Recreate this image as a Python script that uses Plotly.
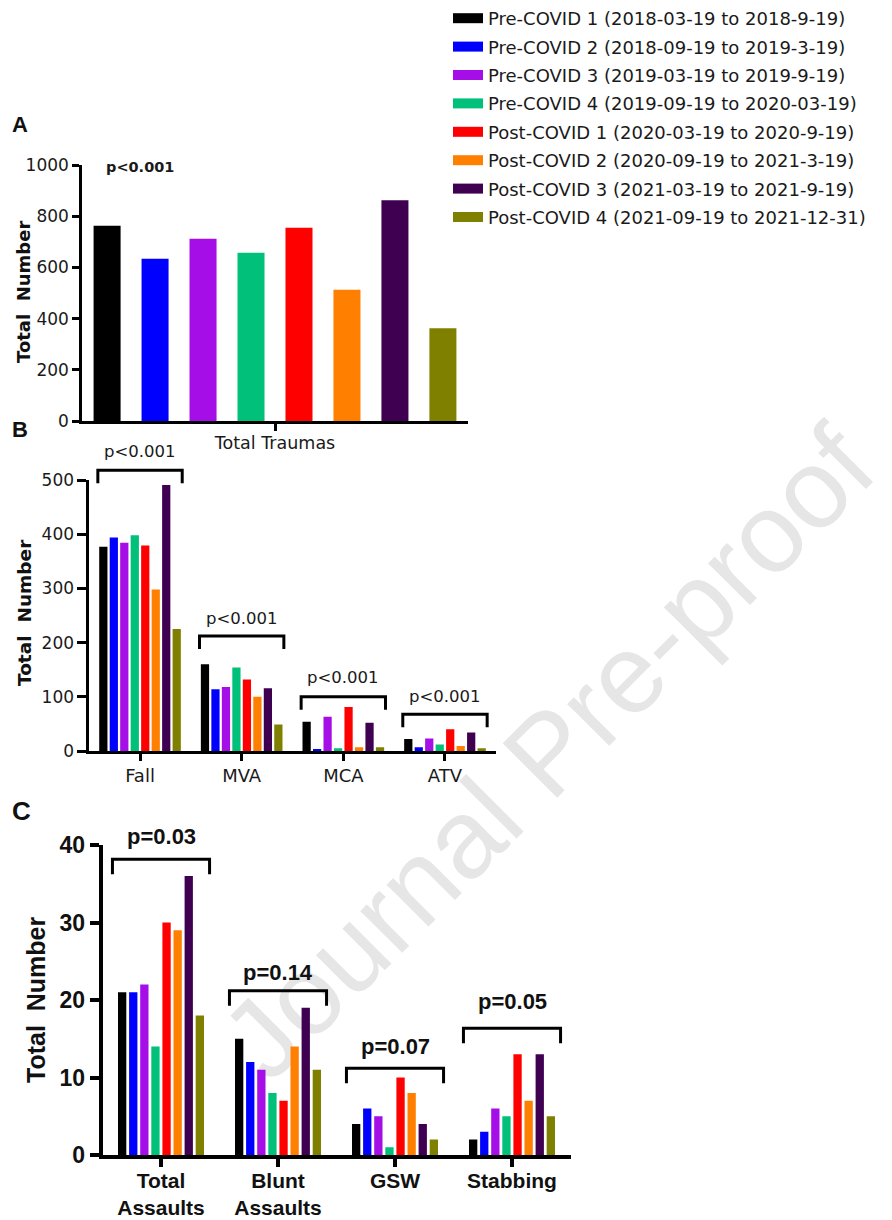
import plotly.graph_objects as go

# ---------------- data ----------------
series_names = [
    "Pre-COVID 1 (2018-03-19 to 2018-9-19)",
    "Pre-COVID 2 (2018-09-19 to 2019-3-19)",
    "Pre-COVID 3 (2019-03-19 to 2019-9-19)",
    "Pre-COVID 4 (2019-09-19 to 2020-03-19)",
    "Post-COVID 1 (2020-03-19 to 2020-9-19)",
    "Post-COVID 2 (2020-09-19 to 2021-3-19)",
    "Post-COVID 3 (2021-03-19 to 2021-9-19)",
    "Post-COVID 4 (2021-09-19 to 2021-12-31)",
]
colors = ["#000000", "#0000ff", "#a50ee6", "#00c07a",
          "#ff0000", "#ff8000", "#3f0052", "#808000"]

cats_a = ["Total Traumas"]
vals_a = [[763], [634], [712], [657], [755], [513], [862], [362]]

cats_b = ["Fall", "MVA", "MCA", "ATV"]
vals_b = [
    [377, 160, 54, 22],
    [394, 114, 3, 7],
    [384, 118, 63, 23],
    [398, 154, 5, 12],
    [379, 132, 81, 40],
    [298, 100, 7, 9],
    [491, 116, 52, 34],
    [225, 49, 7, 5],
]
p_b = ["p<0.001", "p<0.001", "p<0.001", "p<0.001"]
bracket_top_b = [518, 212, 100, 68]
ptext_y_b = [553, 245, 135, 100]

cats_c = ["Total<br>Assaults", "Blunt<br>Assaults", "GSW", "Stabbing"]
vals_c = [
    [21, 15, 4, 2],
    [21, 12, 6, 3],
    [22, 11, 5, 6],
    [14, 8, 1, 5],
    [30, 7, 10, 13],
    [29, 14, 8, 7],
    [36, 19, 4, 13],
    [18, 11, 2, 5],
]
p_c = ["p=0.03", "p=0.14", "p=0.07", "p=0.05"]
bracket_top_c = [38.15, 21.2, 11.2, 16.35]
ptext_y_c = [41.1, 23.6, 14.0, 19.8]

p_a = "p<0.001"
p_a_pos = (-0.35, 992)

# ---------------- layout geometry (page pixels) ----------------
OFF = 8                      # default body margin of the html page
W, H = 892 - OFF, 1220 - OFF
FONT = "DejaVu Sans"
FONT_C = "Liberation Sans"

panels = {
    "A": dict(xd=(82, 468), yd=(165, 421), yr=1000, dtick=200,
              bw=0.070, span=0.940, xa="x", ya="y"),
    "B": dict(xd=(89.2, 495.8), yd=(480, 751), yr=500, dtick=100,
              bw=0.081, span=0.803, xa="x2", ya="y2"),
    "C": dict(xd=(102.5, 570.5), yd=(845, 1155), yr=40, dtick=10,
              bw=0.071, span=0.735, xa="x3", ya="y3"),
}


def pxx(px):
    return (px - OFF) / W


def pxy(py):
    return 1 - (py - OFF) / H


def data_to_paper(panel, v):
    p = panels[panel]
    y0 = pxy(p["yd"][1])
    y1 = pxy(p["yd"][0])
    return y0 + v / p["yr"] * (y1 - y0)


fig = go.Figure()

for key, cats, vals in (("A", cats_a, vals_a), ("B", cats_b, vals_b), ("C", cats_c, vals_c)):
    p = panels[key]
    n = len(vals)
    pitch = (p["span"] - p["bw"]) / (n - 1)
    left = -p["span"] / 2
    for i in range(n):
        fig.add_trace(go.Bar(
            x=list(range(len(cats))), y=vals[i],
            width=p["bw"], offset=left + i * pitch,
            marker=dict(color=colors[i], line=dict(width=0)),
            name=series_names[i], showlegend=False, legendgroup=f"s{i}",
            xaxis=p["xa"], yaxis=p["ya"], hoverinfo="skip",
        ))

# legend entries drawn as wide colour swatches
for i in range(len(series_names)):
    fig.add_trace(go.Scatter(
        x=[None], y=[None], mode="lines", name=series_names[i],
        line=dict(color=colors[i], width=13), legendgroup=f"s{i}",
        showlegend=True, xaxis="x", yaxis="y", hoverinfo="skip",
    ))

axis_common = dict(showgrid=False, zeroline=False, showline=True,
                   linecolor="black", ticks="outside", tickcolor="black")

layout = dict(
    width=W, height=H, margin=dict(l=0, r=0, t=0, b=0, autoexpand=False),
    paper_bgcolor="white", plot_bgcolor="rgba(0,0,0,0)",
    barmode="overlay", font=dict(family=FONT, color="#1a1a1a"),
    legend=dict(x=pxx(448), y=pxy(0), xanchor="left", yanchor="top",
                font=dict(family=FONT, size=18, color="#1a1a1a"),
                bgcolor="rgba(0,0,0,0)", tracegroupgap=2),
)

spec = {
    "A": dict(cats=cats_a, lw=2.5, tl=7, ytl=7, so=-3, tf=dict(family=FONT, size=17, color="#1a1a1a"),
              xtf=dict(family=FONT, size=17.5, color="#1a1a1a")),
    "B": dict(cats=cats_b, lw=2.5, tl=7, ytl=9, so=0, tf=dict(family=FONT, size=17, color="#1a1a1a"),
              xtf=dict(family=FONT, size=18, color="#1a1a1a")),
    "C": dict(cats=cats_c, lw=3.5, tl=8, ytl=9, so=-4, tf=dict(family=FONT_C, size=23, color="#111111"),
              xtf=dict(family=FONT_C, size=21, color="#111111")),
}

for key, p in panels.items():
    s = spec[key]
    xname = "xaxis" if p["xa"] == "x" else "xaxis" + p["xa"][1:]
    yname = "yaxis" if p["ya"] == "y" else "yaxis" + p["ya"][1:]
    ncat = len(s["cats"])
    xtf = dict(s["xtf"])
    ytf = dict(s["tf"])
    if key == "C":
        xtf["weight"] = "bold"
        ytf["weight"] = "bold"
    layout[xname] = dict(axis_common, domain=[pxx(p["xd"][0]), pxx(p["xd"][1])],
                         range=[-0.5, ncat - 0.5], anchor=p["ya"],
                         tickvals=list(range(ncat)), ticktext=s["cats"],
                         linewidth=s["lw"], tickwidth=s["lw"], ticklen=s["tl"],
                         ticklabelstandoff=s["so"],
                         tickfont=xtf, fixedrange=True)
    layout[yname] = dict(axis_common, domain=[pxy(p["yd"][1]), pxy(p["yd"][0])],
                         range=[0, p["yr"]], anchor=p["xa"], dtick=p["dtick"],
                         tick0=0, linewidth=s["lw"], tickwidth=s["lw"],
                         ticklen=s["ytl"], tickfont=ytf, fixedrange=True)

fig.update_layout(**layout)

shapes = []
annotations = []

# brackets + p-values
for key, tops, texts, labels, legpx, font in (
    ("B", bracket_top_b, ptext_y_b, p_b, 13, dict(family=FONT, size=16.5, color="#1a1a1a")),
    ("C", bracket_top_c, ptext_y_c, p_c, 15, dict(family=FONT_C, size=22, color="#111111", weight="bold")),
):
    p = panels[key]
    half = 0.415
    for i, (t, ty, lab) in enumerate(zip(tops, texts, labels)):
        yt = data_to_paper(key, t)
        yb = yt - legpx / H
        path = f"M {i - half},{yb} L {i - half},{yt} L {i + half},{yt} L {i + half},{yb}"
        shapes.append(dict(type="path", path=path, xref=p["xa"], yref="paper",
                           line=dict(color="black", width=3)))
        annotations.append(dict(text=lab, x=i, y=data_to_paper(key, ty),
                                xref=p["xa"], yref="paper", showarrow=False,
                                xanchor="center", yanchor="middle", font=font))

# panel A p-value
annotations.append(dict(text=p_a, x=p_a_pos[0], y=data_to_paper("A", p_a_pos[1]),
                        xref="x", yref="paper", showarrow=False,
                        xanchor="center", yanchor="middle",
                        font=dict(family=FONT, size=14.5, color="#1a1a1a", weight="bold")))

# y-axis titles
for (cx, cy, size, fam) in ((23, 292, 18, FONT), (24, 613, 18.5, FONT), (36, 1000, 25, FONT_C)):
    annotations.append(dict(text="Total  Number", x=pxx(cx), y=pxy(cy), xref="paper", yref="paper",
                            showarrow=False, textangle=-90, xanchor="center", yanchor="middle",
                            font=dict(family=fam, size=size, color="#111111", weight="bold")))

# panel letters
for (lab, cx, cy, size) in (("A", 20, 125, 22), ("B", 20, 429, 22), ("C", 21, 811, 26)):
    annotations.append(dict(text=lab, x=pxx(cx), y=pxy(cy), xref="paper", yref="paper",
                            showarrow=False, xanchor="center", yanchor="middle",
                            font=dict(family="Liberation Sans", size=size, color="#111111",
                                      weight="bold")))

# watermark (behind the bars)
wc = (540, 745)
shapes.append(dict(type="rect", xref="paper", yref="paper", layer="below",
                   x0=pxx(wc[0] - 10), x1=pxx(wc[0] + 10),
                   y0=pxy(wc[1] + 10), y1=pxy(wc[1] - 10),
                   line=dict(width=0), fillcolor="rgba(0,0,0,0)",
                   label=dict(text="Journal Pre-proof", textangle=-45,
                              textposition="middle center",
                              font=dict(family="Liberation Sans", size=112, color="#e6e6e6"))))

fig.update_layout(shapes=shapes, annotations=annotations)

fig.write_html("out.html")
